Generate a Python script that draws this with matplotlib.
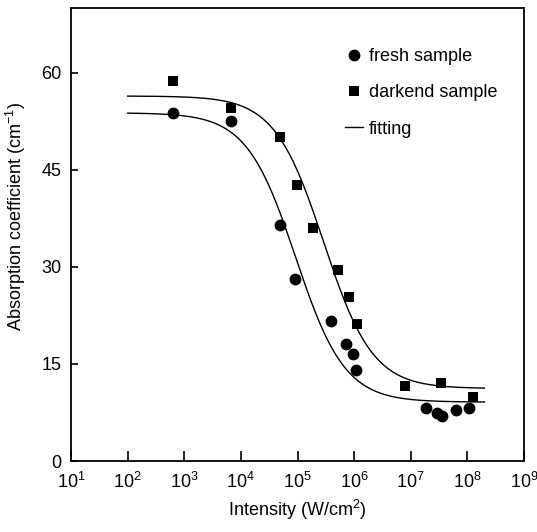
import numpy as np
import matplotlib
matplotlib.use("Agg")
import matplotlib.pyplot as plt
from matplotlib.ticker import LogLocator, NullLocator, FixedLocator

plt.rcParams['font.family'] = ['Liberation Sans', 'DejaVu Sans']
plt.rcParams['mathtext.fontset'] = 'custom'
plt.rcParams['mathtext.rm'] = 'Liberation Sans'
plt.rcParams['mathtext.it'] = 'Liberation Sans:italic'
plt.rcParams['mathtext.bf'] = 'Liberation Sans:bold'

# measured points (intensity in W/cm^2, absorption in cm^-1)
fresh_I = [6.3e2, 6.6e3, 4.9e4, 9.1e4, 3.9e5, 7.1e5, 9.5e5, 1.07e6,
           1.86e7, 2.9e7, 3.6e7, 6.3e7, 1.05e8]
fresh_a = [53.7, 52.5, 36.5, 28.2, 21.6, 18.1, 16.5, 14.0,
           8.2, 7.4, 6.9, 7.9, 8.2]

dark_I = [6.3e2, 6.6e3, 4.9e4, 9.8e4, 1.86e5, 5.2e5, 8.1e5, 1.12e6,
          7.9e6, 3.4e7, 1.26e8]
dark_a = [58.7, 54.6, 50.0, 42.7, 36.0, 29.5, 25.4, 21.1,
          11.6, 12.0, 9.9]

# saturable absorption fit: a = a_ns + a_s / (1 + I / I_s)
fresh_fit = dict(a_ns=9.1, a_s=44.7, I_s=9.3e4)
dark_fit = dict(a_ns=11.2, a_s=45.2, I_s=2.9e5)
fit_range = (1e2, 2e8)


def sat_abs(I, a_ns, a_s, I_s):
    return a_ns + a_s / (1 + I / I_s)


fig = plt.figure(figsize=(5.37, 5.32), dpi=100)
ax = fig.add_axes([71/537, 1 - 461/532, 453/537, 453/532])

I_fit = np.logspace(np.log10(fit_range[0]), np.log10(fit_range[1]), 400)
ax.plot(I_fit, sat_abs(I_fit, **fresh_fit), color='black', lw=1.0)
ax.plot(I_fit, sat_abs(I_fit, **dark_fit), color='black', lw=1.0)

ax.plot(fresh_I, fresh_a, 'o', color='black', ms=8.5, mew=0,
        label='fresh sample')
ax.plot(dark_I, dark_a, 's', color='black', ms=7.5, mew=0,
        label='darkend sample')
ax.plot([], [], '-', color='black', lw=1.0, label='fitting')

ax.set_xscale('log')
ax.set_xlim(1e1, 1e9)
ax.set_ylim(0, 70)
ax.xaxis.set_major_locator(LogLocator(base=10, numticks=20))
ax.xaxis.set_minor_locator(NullLocator())
ax.yaxis.set_major_locator(FixedLocator([0, 15, 30, 45, 60]))

ax.tick_params(axis='x', direction='in', length=7, width=1.2,
               labelsize=13, pad=8)
ax.tick_params(axis='y', direction='in', length=5, width=1.2,
               labelsize=13, pad=7)
for s in ax.spines.values():
    s.set_linewidth(1.3)

ax.set_xlabel('Intensity (W/cm$^2$)', fontsize=13, labelpad=4)
ax.set_ylabel('Absorption coefficient (cm$^{-1}$)', fontsize=13)
ax.yaxis.set_label_coords(-0.095, 0.54)

ax.legend(loc='upper left', bbox_to_anchor=(0.605, 0.911), frameon=False,
          fontsize=13, borderpad=0, borderaxespad=0, handlelength=1.0,
          handletextpad=0.3, labelspacing=1.06, numpoints=1)

fig.savefig('out.png', dpi=100)
